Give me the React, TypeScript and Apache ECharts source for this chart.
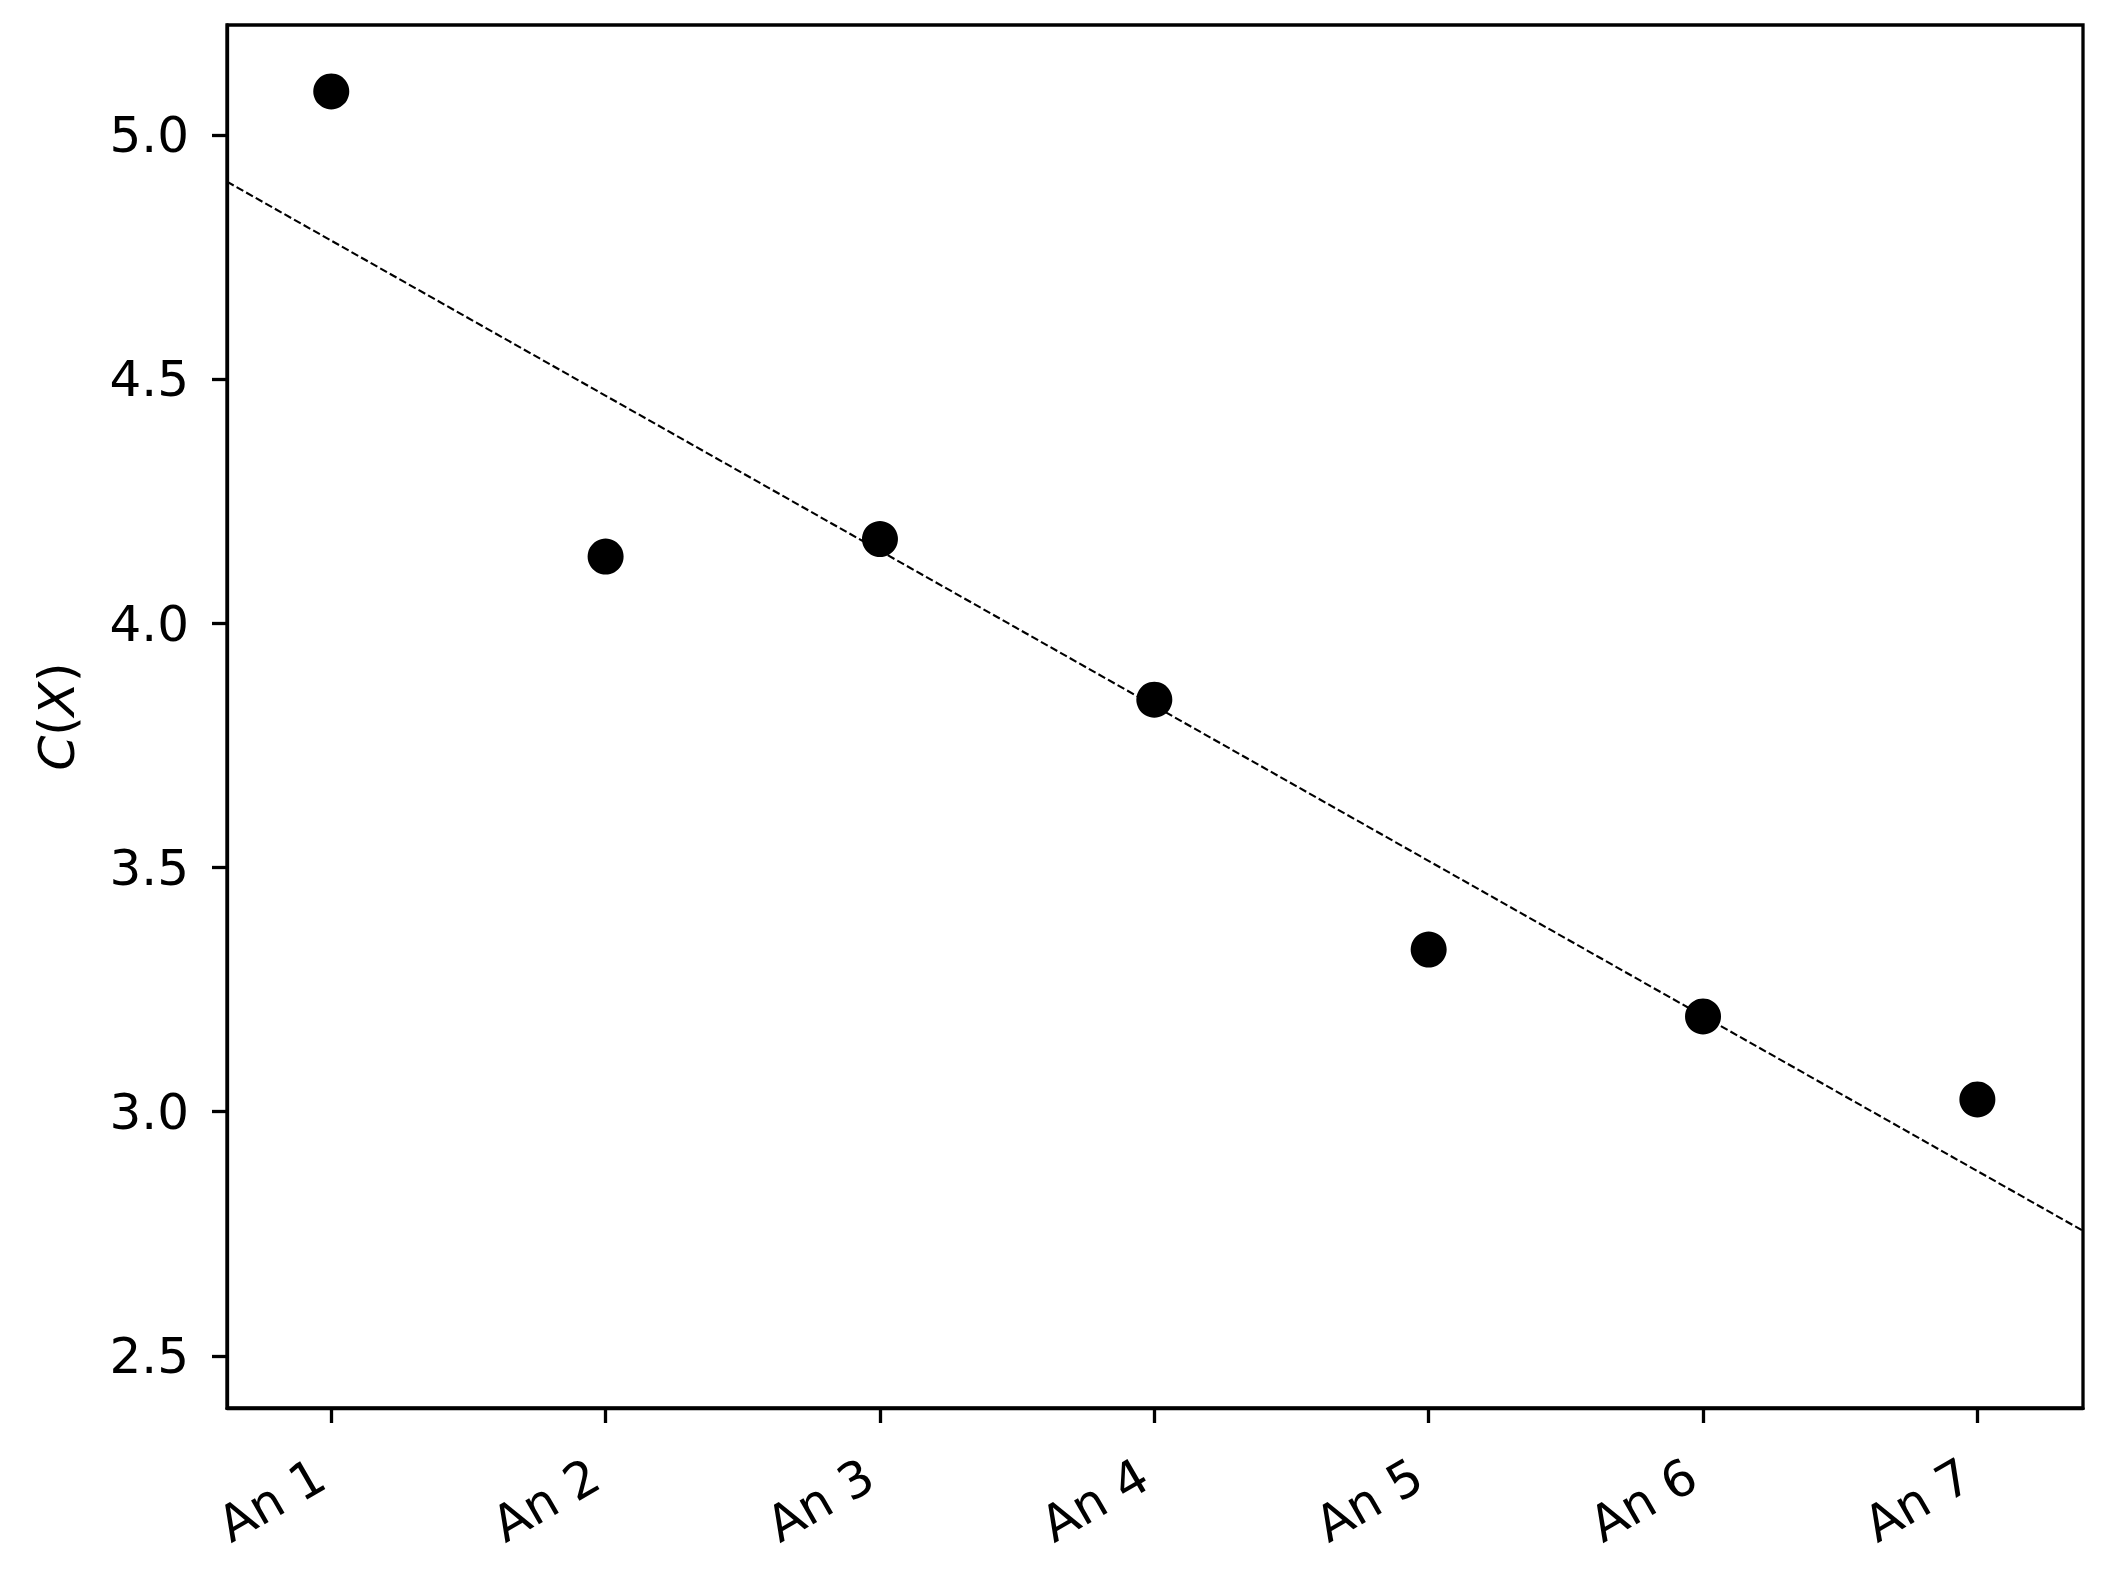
import React, { useEffect, useRef } from "react";
import * as echarts from "echarts";

const categories = ["An 1", "An 2", "An 3", "An 4", "An 5", "An 6", "An 7"];
const values = [5.09, 4.137, 4.173, 3.844, 3.332, 3.195, 3.025];
const yTicks = [2.5, 3.0, 3.5, 4.0, 4.5, 5.0];
const trendX = [0.62, 7.385];
const trendY = [4.905, 2.756];

const FONT = "DejaVu Sans";
const FS = 50;

export default function App() {
  const ref = useRef<HTMLDivElement>(null);
  useEffect(() => {
    if (!ref.current) return;
    const chart = echarts.init(ref.current, null, { renderer: "svg" });
    const xTicks = categories.map((_, i) => i + 1);
    chart.setOption({
      animation: false,
      backgroundColor: "#ffffff",
      grid: {
        left: 227,
        top: 25,
        right: 2112 - 2083,
        bottom: 1576 - 1408,
        show: true,
        borderColor: "#000",
        borderWidth: 3.3,
        backgroundColor: "transparent",
      },
      xAxis: {
        type: "value",
        min: trendX[0],
        max: trendX[1],
        splitLine: { show: false },
        axisLine: { show: true, lineStyle: { color: "#000", width: 3.3 } },
        axisTick: {
          show: true,
          length: 15,
          customValues: xTicks,
          lineStyle: { color: "#000", width: 3.3 },
        },
        axisLabel: {
          customValues: xTicks,
          formatter: (v: number) => categories[Math.round(v) - 1] ?? "",
          rotate: 30,
          margin: 58,
          padding: [0, 12, 0, 0],
          color: "#000",
          fontFamily: FONT,
          fontSize: FS,
        },
      },
      yAxis: {
        type: "value",
        min: 2.393,
        max: 5.226,
        splitLine: { show: false },
        axisLine: { show: true, lineStyle: { color: "#000", width: 3.3 } },
        axisTick: {
          show: true,
          length: 15,
          customValues: yTicks,
          lineStyle: { color: "#000", width: 3.3 },
        },
        axisLabel: {
          customValues: yTicks,
          formatter: (v: number) => v.toFixed(1),
          margin: 38,
          color: "#000",
          fontFamily: FONT,
          fontSize: FS,
        },
        name: "{i|C}({i|X})",
        nameLocation: "middle",
        nameGap: 145,
        nameTextStyle: {
          color: "#000",
          fontFamily: FONT,
          fontSize: FS,
          rich: {
            i: { fontStyle: "italic", fontFamily: FONT, fontSize: FS, color: "#000" },
          },
        },
      },
      series: [
        {
          type: "line",
          data: trendX.map((x, i) => [x, trendY[i]]),
          showSymbol: false,
          symbol: "none",
          lineStyle: { color: "#000", width: 2.1, type: [7.7, 3.3] },
          z: 1,
        },
        {
          type: "scatter",
          data: values.map((v, i) => [i + 1, v]),
          symbol: "circle",
          symbolSize: 36,
          itemStyle: { color: "#000", opacity: 1 },
          z: 2,
        },
      ],
    });
    return () => chart.dispose();
  }, []);
  return (
    <div
      ref={ref}
      style={{ position: "fixed", left: 0, top: 0, width: 2112, height: 1576, background: "#fff" }}
    />
  );
}
